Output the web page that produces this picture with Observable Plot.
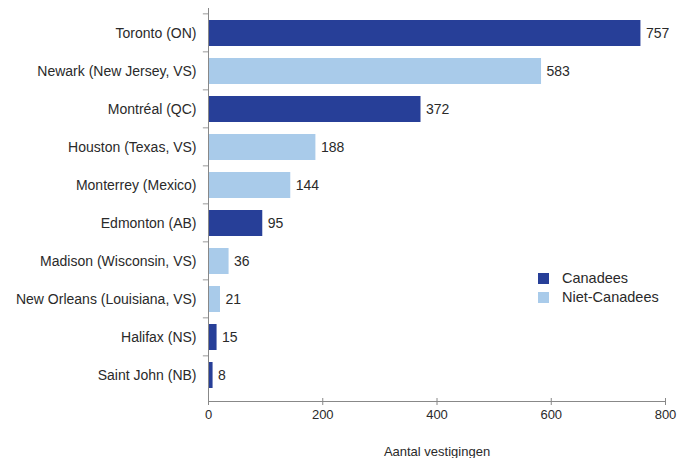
<!DOCTYPE html>
<html><head><meta charset="utf-8">
<script src="https://cdn.jsdelivr.net/npm/d3@7"></script>
<script src="https://cdn.jsdelivr.net/npm/@observablehq/plot@0.6"></script>
<style>
body{margin:0;background:#fff;font-family:"Liberation Sans",Arial,sans-serif;}
#wrap{position:relative;width:679px;height:458px;}
#legend{position:absolute;left:538px;top:269px;font-size:14.5px;color:#2a2a2a;line-height:19px;}
#legend span.sw{display:inline-block;width:11px;height:11px;margin-right:13px;vertical-align:-1px;}
</style></head>
<body><div id="wrap"><div id="legend"></div></div>
<script>
const cities = ["Toronto (ON)","Newark (New Jersey, VS)","Montréal (QC)","Houston (Texas, VS)","Monterrey (Mexico)","Edmonton (AB)","Madison (Wisconsin, VS)","New Orleans (Louisiana, VS)","Halifax (NS)","Saint John (NB)"];
const counts = [757,583,372,188,144,95,36,21,15,8];
const groups = ["Canadees","Niet-Canadees","Canadees","Niet-Canadees","Niet-Canadees","Canadees","Niet-Canadees","Niet-Canadees","Canadees","Canadees"];
const groupNames = ["Canadees","Niet-Canadees"];
const groupColors = ["#273f98","#a9cbea"];
const xTicks = [0,200,400,600,800];

const data = cities.map((c,i)=>({city:c,count:counts[i],group:groups[i]}));
const step = (401-8)/cities.length;

const chart = Plot.plot({
  width:679, height:458,
  marginLeft:208, marginRight:14, marginTop:8, marginBottom:57,
  style:{fontFamily:'"Liberation Sans",Arial,sans-serif',fontSize:"14px",color:"#2a2a2a",background:"#fff"},
  x:{domain:[0,800]},
  y:{domain:cities, padding:0.31, align:0.5},
  color:{domain:groupNames, range:groupColors},
  marks:[
    Plot.barX(data,{y:"city",x:"count",fill:"group"}),
    Plot.text(data,{y:"city",x:"count",text:d=>String(d.count),dx:5,textAnchor:"start",fill:"#2a2a2a",fontSize:14}),
    Plot.ruleY(cities,{y:d=>d,dy:-step/2,x1:-9,x2:0,stroke:"#999",clip:false}),
    Plot.frame({anchor:"left",stroke:"#888"}),
    Plot.frame({anchor:"bottom",stroke:"#888"}),
    Plot.axisY({tickSize:0,tickPadding:12,fontSize:14,fill:"#2a2a2a",label:null}),
    Plot.axisX({ticks:xTicks,tickSize:4,tickPadding:4,stroke:"#888",fill:"#2a2a2a",fontSize:13,label:"Aantal vestigingen",labelAnchor:"center",labelArrow:"none",labelOffset:54}),
    Plot.axisX({ticks:xTicks,tickSize:-3,text:null,stroke:"#888",label:null})
  ]
});
document.getElementById("wrap").prepend(chart);
const lg=document.getElementById("legend");
groupNames.forEach((g,i)=>{const d=document.createElement("div");d.innerHTML=`<span class="sw" style="background:${groupColors[i]}"></span>${g}`;lg.appendChild(d);});
</script></body></html>
